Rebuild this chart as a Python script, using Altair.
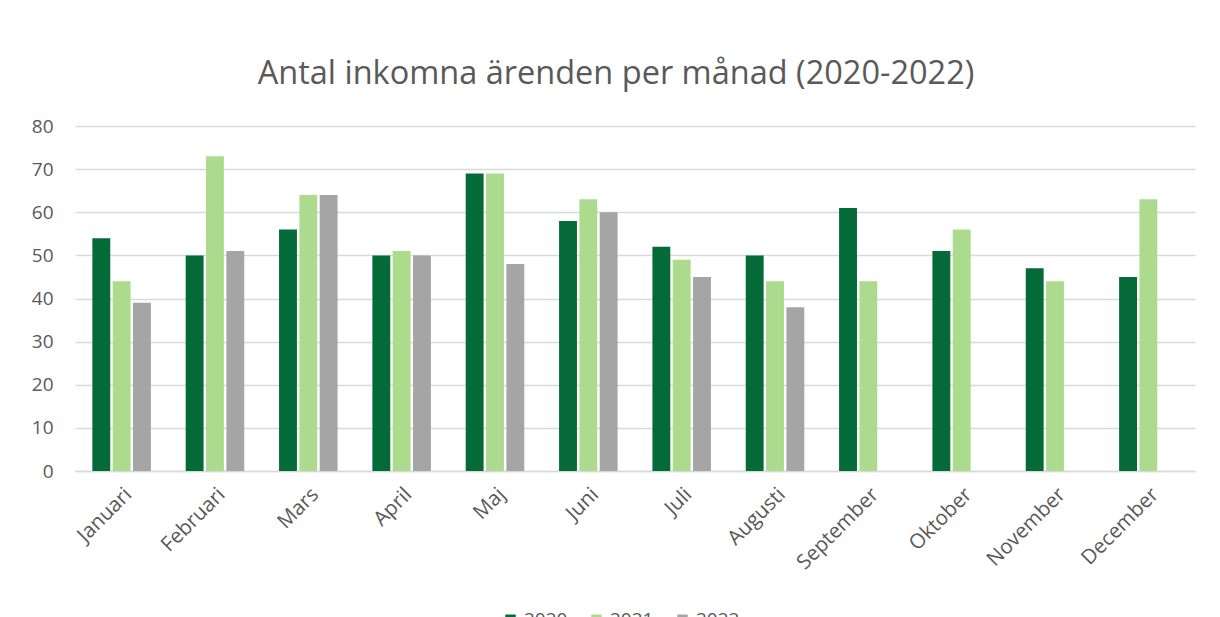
import altair as alt
import pandas as pd

months = ["Januari", "Februari", "Mars", "April", "Maj", "Juni", "Juli",
          "Augusti", "September", "Oktober", "November", "December"]
years = ["2020", "2021", "2022"]
v2020 = [54, 50, 56, 50, 69, 58, 52, 50, 61, 51, 47, 45]
v2021 = [44, 73, 64, 51, 69, 63, 49, 44, 44, 56, 44, 63]
v2022 = [39, 51, 64, 50, 48, 60, 45, 38, None, None, None, None]
colors = ["#046A38", "#ADDB8E", "#A5A5A5"]

rows = []
for yr, vals in zip(years, [v2020, v2021, v2022]):
    for m, v in zip(months, vals):
        if v is not None:
            rows.append({"Månad": m, "År": yr, "Antal": v})
df = pd.DataFrame(rows)

FONT = "Open Sans"
GRAY = "#595959"

chart = alt.Chart(df).mark_bar().encode(
    x=alt.X("Månad:N", sort=months,
            scale=alt.Scale(paddingInner=0.373, paddingOuter=0.186),
            axis=alt.Axis(title=None, labelAngle=-45, labelAlign="right",
                          labelBaseline="top", labelFontSize=20.5, labelFont=FONT,
                          labelColor=GRAY, ticks=False, domainColor="#D9D9D9",
                          domainWidth=1.5, labelPadding=13)),
    xOffset=alt.XOffset("År:N", scale=alt.Scale(paddingInner=0.12, paddingOuter=0)),
    y=alt.Y("Antal:Q", scale=alt.Scale(domain=[0, 80]),
            axis=alt.Axis(title=None, values=list(range(0, 81, 10)), labelFontSize=19,
                          labelFont=FONT, labelColor=GRAY, ticks=False, domain=False,
                          gridColor="#D9D9D9", gridWidth=1.5, labelPadding=22)),
    color=alt.Color("År:N", scale=alt.Scale(domain=years, range=colors),
                    legend=alt.Legend(title=None, orient="none", legendX=426, legendY=484,
                                      direction="horizontal", symbolType="square",
                                      symbolSize=110, labelFontSize=19, labelFont=FONT,
                                      labelColor=GRAY, columnPadding=19)),
).properties(
    width=1120,
    height=345,
    title=alt.TitleParams("Antal inkomna ärenden per månad (2020-2022)", fontSize=32.5,
                          font=FONT, fontWeight="normal", color=GRAY, anchor="middle",
                          dx=-19, offset=27),
    autosize=alt.AutoSizeParams(type="none"),
    padding={"left": 67, "top": 118, "right": 17, "bottom": 160},
).configure(background="white").configure_view(strokeWidth=0)

chart.save("out.html", embed_options={"renderer": "svg", "actions": False})
